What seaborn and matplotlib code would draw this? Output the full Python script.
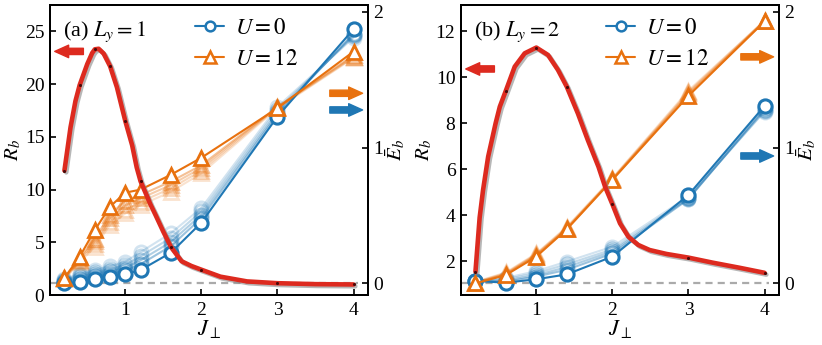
import numpy as np
import pandas as pd
import matplotlib
matplotlib.use('Agg')
import matplotlib.pyplot as plt
import matplotlib.patheffects as pe
from matplotlib.lines import Line2D
import seaborn as sns

# ---- panel (a), L_y = 1 ----
J_a = [0.2, 0.4, 0.6, 0.8, 1.0, 1.2, 1.6, 2.0, 3.0, 4.0]
Eu0_a = [0.0, 0.012, 0.03, 0.044, 0.066, 0.098, 0.226, 0.447, 1.228, 1.872]
Eu0_a_faded = [
    [0.03, 0.07, 0.10, 0.125, 0.16, 0.23, 0.37, 0.555, 1.30, 1.81],
    [0.022, 0.06, 0.085, 0.105, 0.135, 0.20, 0.335, 0.53, 1.28, 1.82],
    [0.015, 0.05, 0.07, 0.09, 0.115, 0.17, 0.305, 0.505, 1.26, 1.83],
    [0.008, 0.035, 0.055, 0.07, 0.095, 0.14, 0.275, 0.48, 1.245, 1.84],
]
Eu12_a = [0.04, 0.196, 0.393, 0.565, 0.668, 0.69, 0.80, 0.925, 1.29, 1.707]
Eu12_a_faded = [
    [0.03, 0.155, 0.27, 0.43, 0.515, 0.575, 0.675, 0.81, 1.29, 1.66],
    [0.033, 0.165, 0.29, 0.455, 0.54, 0.60, 0.70, 0.83, 1.295, 1.665],
    [0.036, 0.175, 0.31, 0.48, 0.575, 0.625, 0.725, 0.85, 1.30, 1.67],
    [0.038, 0.185, 0.33, 0.505, 0.61, 0.65, 0.75, 0.87, 1.30, 1.68],
]
Rb_a = [11.8, 19.9, 23.3, 21.7, 16.5, 10.8, 4.55, 2.4, 1.12, 1.0]
# red curve
Jc_a = [0.2, 0.28, 0.345, 0.4, 0.5, 0.565, 0.6, 0.65, 0.715, 0.8, 0.89, 0.955, 1.0,
        1.09, 1.15, 1.2, 1.33, 1.4, 1.5, 1.6, 1.74, 1.87, 2.0, 2.25, 2.6, 3.0, 3.5, 4.0]
Rc_a = [11.8, 15.9, 18.4, 19.9, 21.9, 22.95, 23.3, 23.35, 22.9, 21.7, 19.7, 17.8, 16.5,
        14.2, 12.1, 10.8, 8.6, 7.55, 6.0, 4.55, 3.2, 2.75, 2.4, 1.74, 1.29, 1.12, 1.03, 1.0]

# ---- panel (b), L_y = 2 ----
J_b = [0.2, 0.6, 1.0, 1.4, 2.0, 3.0, 4.0]
Eu0_b = [0.017, 0.005, 0.03, 0.066, 0.197, 0.651, 1.307]
Eu0_b_faded = [
    [0.02, 0.04, 0.09, 0.16, 0.27, 0.64, 1.265],
    [0.02, 0.03, 0.075, 0.14, 0.25, 0.63, 1.27],
    [0.02, 0.02, 0.06, 0.12, 0.235, 0.625, 1.28],
    [0.02, 0.012, 0.05, 0.10, 0.22, 0.62, 1.29],
]
Eu12_b = [0.0, 0.061, 0.197, 0.398, 0.762, 1.381, 1.929]
Eu12_b_faded = [
    [0.01, 0.08, 0.22, 0.415, 0.775, 1.42, 1.935],
    [0.008, 0.075, 0.215, 0.41, 0.77, 1.41, 1.935],
    [0.005, 0.07, 0.21, 0.405, 0.768, 1.40, 1.932],
    [0.003, 0.065, 0.205, 0.40, 0.765, 1.39, 1.93],
]
Rb_b = [1.55, 9.42, 11.29, 9.59, 4.48, 2.16, 1.5]
Jc_b = [0.2, 0.255, 0.30, 0.367, 0.465, 0.52, 0.6, 0.716, 0.847, 1.0, 1.153, 1.284, 1.4,
        1.546, 1.677, 1.817, 1.904, 2.0, 2.10, 2.21, 2.34, 2.49, 2.71, 3.0, 3.32, 3.67, 4.0]
Rc_b = [1.55, 3.9, 5.1, 6.55, 8.0, 8.72, 9.42, 10.46, 11.04, 11.29, 10.97, 10.32, 9.59,
        8.43, 7.27, 6.11, 5.24, 4.48, 3.65, 3.07, 2.71, 2.49, 2.32, 2.16, 1.94, 1.72, 1.5]

# arrow heights (red on R_b axis, others on E_b axis)
arrows_a = {'red': 23.1, 'orange': 1.40, 'blue': 1.277}
arrows_b = {'red': 10.36, 'orange': 1.668, 'blue': 0.938}

BLUE = '#1f77b4'
ORANGE = '#e8710e'
RED = '#dd2a1f'
faded_alpha = [0.2, 0.27, 0.35, 0.44]

sns.set_theme(style='ticks')
plt.rcParams['font.family'] = ['Liberation Serif', 'DejaVu Serif']
plt.rcParams['mathtext.fontset'] = 'stix'
plt.rcParams['axes.linewidth'] = 1.4
for k in ('text.color', 'axes.labelcolor', 'xtick.color', 'ytick.color', 'axes.edgecolor'):
    plt.rcParams[k] = 'black'


def draw_panel(ax, J, eu0, eu0_f, eu12, eu12_f, Jc, Rc, Rd, ylim_left, yticks_left,
               label, arrows):
    ax2 = ax.twinx()
    ax.set_zorder(ax2.get_zorder() + 1)
    ax.patch.set_visible(False)

    ax2.axhline(0, xmin=0, xmax=0.97, color='#aaaaaa', lw=1.6, ls=(0, (3.2, 2.3)), zorder=0)

    for vals, a in zip(eu0_f, faded_alpha):
        sns.lineplot(x=J, y=vals, ax=ax2, color=BLUE, alpha=a, lw=1.5, marker='o', ms=9.5,
                     mfc='none', mec=BLUE, mew=2.0, errorbar=None, legend=False)
    for vals, a in zip(eu12_f, faded_alpha):
        sns.lineplot(x=J, y=vals, ax=ax2, color=ORANGE, alpha=a, lw=1.5, marker='^', ms=10.5,
                     mfc='none', mec=ORANGE, mew=2.0, errorbar=None, legend=False)
    sns.lineplot(x=J, y=eu0, ax=ax2, color=BLUE, lw=1.5, marker='o', ms=9.5,
                 mfc='white', mec=BLUE, mew=2.2, errorbar=None, legend=False)
    sns.lineplot(x=J, y=eu12, ax=ax2, color=ORANGE, lw=1.5, marker='^', ms=10.5,
                 mfc='white', mec=ORANGE, mew=2.0, errorbar=None, legend=False)

    sns.lineplot(x=Jc, y=Rc, ax=ax, color=RED, lw=3.3, errorbar=None, legend=False,
                 path_effects=[pe.SimpleLineShadow(offset=(1.3, -1.3), shadow_color='#888888', alpha=0.6),
                               pe.Normal()])
    sns.scatterplot(x=J, y=Rd, ax=ax, color='#4a0808', s=5, linewidth=0, legend=False, zorder=5)

    ax.set_xlim(0.01, 4.19)
    ax.set_xticks([1, 2, 3, 4])
    ax.set_ylim(*ylim_left)
    ax.set_yticks(yticks_left)
    ax2.set_ylim(-0.086, 2.05)
    ax2.set_yticks([0, 1, 2])

    ax.tick_params(direction='in', length=4, width=1.2, labelsize=14, pad=4)
    ax.tick_params(axis='x', pad=5)
    ax2.tick_params(direction='in', length=4, width=1.2, labelsize=14, pad=4)

    ax.set_xlabel(r'$J_\perp$', fontsize=16, labelpad=-1)
    ax.set_ylabel(r'$R_b$', fontsize=15, labelpad=1)
    ax2.set_ylabel(r'$\bar{E}_b$', fontsize=15, labelpad=0)

    ax.text(0.04, 0.95, label, transform=ax.transAxes, fontsize=16, va='top', ha='left')

    handles = [Line2D([], [], color=BLUE, lw=1.5, marker='o', ms=7, mfc='white', mew=1.8),
               Line2D([], [], color=ORANGE, lw=1.5, marker='^', ms=8, mfc='white', mew=1.8)]
    ax.legend(handles, [r'$U=0$', r'$U=12$'], loc='upper left', bbox_to_anchor=(0.455, 0.955),
              frameon=False, fontsize=16.5, handlelength=1.3, handletextpad=0.45,
              labelspacing=0.45, borderpad=0, borderaxespad=0)

    astyle = 'simple,head_length=1.0,head_width=0.9,tail_width=0.45'
    ax.annotate('', xy=(0.015, arrows['red']), xytext=(0.105, arrows['red']),
                xycoords=('axes fraction', 'data'),
                arrowprops=dict(arrowstyle=astyle, mutation_scale=10, color=RED, shrinkA=0, shrinkB=0))
    for key, col in (('orange', ORANGE), ('blue', BLUE)):
        ax2.annotate('', xy=(0.983, arrows[key]), xytext=(0.88, arrows[key]),
                     xycoords=('axes fraction', 'data'),
                     arrowprops=dict(arrowstyle=astyle, mutation_scale=10, color=col, shrinkA=0, shrinkB=0))


fig, axes = plt.subplots(1, 2, figsize=(8.22, 3.45), dpi=100)
fig.subplots_adjust(left=0.0608, right=0.9477, top=0.9855, bottom=0.1449, wspace=0.2925)

draw_panel(axes[0], J_a, Eu0_a, Eu0_a_faded, Eu12_a, Eu12_a_faded, Jc_a, Rc_a, Rb_a,
           (0, 27.5), [0, 5, 10, 15, 20, 25], r'(a) $L_y=1$', arrows_a)
draw_panel(axes[1], J_b, Eu0_b, Eu0_b_faded, Eu12_b, Eu12_b_faded, Jc_b, Rc_b, Rb_b,
           (0.535, 13.14), [2, 4, 6, 8, 10, 12], r'(b) $L_y=2$', arrows_b)

fig.savefig('out.png', dpi=100)
